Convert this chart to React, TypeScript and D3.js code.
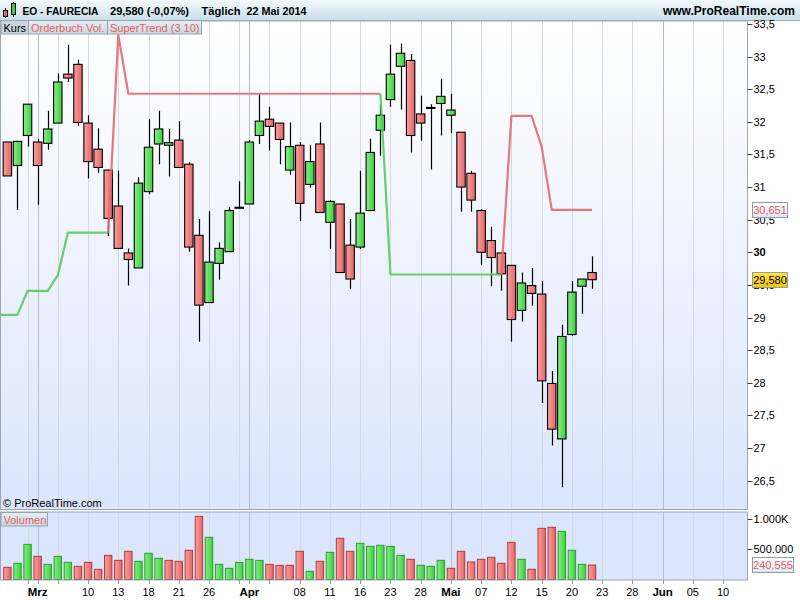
import React, { useEffect, useRef } from 'react';
import * as d3 from 'd3';

// trading days shown (Euronext Paris, daily)
const dates = [
  '2014-02-26', '2014-02-27', '2014-02-28',
  '2014-03-03', '2014-03-04', '2014-03-05', '2014-03-06', '2014-03-07',
  '2014-03-10', '2014-03-11', '2014-03-12', '2014-03-13', '2014-03-14',
  '2014-03-17', '2014-03-18', '2014-03-19', '2014-03-20', '2014-03-21',
  '2014-03-24', '2014-03-25', '2014-03-26', '2014-03-27', '2014-03-28',
  '2014-03-31', '2014-04-01', '2014-04-02', '2014-04-03', '2014-04-04',
  '2014-04-07', '2014-04-08', '2014-04-09', '2014-04-10', '2014-04-11',
  '2014-04-14', '2014-04-15', '2014-04-16', '2014-04-17',
  '2014-04-22', '2014-04-23', '2014-04-24', '2014-04-25',
  '2014-04-28', '2014-04-29', '2014-04-30', '2014-05-02',
  '2014-05-05', '2014-05-06', '2014-05-07', '2014-05-08', '2014-05-09',
  '2014-05-12', '2014-05-13', '2014-05-14', '2014-05-15', '2014-05-16',
  '2014-05-19', '2014-05-20', '2014-05-21', '2014-05-22',
];

const opens = [
  31.69, 31.33, 31.79, 31.69, 31.67, 31.98, 32.73, 32.88, 31.98, 31.58,
  31.26, 30.71, 29.99, 29.76, 30.93, 31.66, 31.64, 31.72, 31.35, 30.26,
  29.23, 29.83, 30.01, 30.68, 30.74, 31.79, 32.04, 31.98, 31.26, 31.64,
  31.04, 31.66, 30.46, 30.74, 30.11, 30.08, 30.64, 31.87, 32.34, 32.85,
  32.94, 32.12, 32.22, 32.28, 32.10, 31.84, 31.21, 30.64, 30.18, 29.99,
  29.80, 29.11, 29.49, 29.36, 27.99, 27.14, 28.74, 29.48, 29.69,
];
const highs = [
  31.69, 31.71, 32.27, 31.74, 32.17, 32.74, 33.18, 32.95, 32.10, 31.90,
  31.26, 31.25, 30.06, 31.15, 32.04, 32.17, 31.89, 32.01, 31.38, 30.51,
  30.63, 30.15, 30.69, 31.09, 31.72, 32.44, 32.23, 31.98, 31.99, 31.69,
  31.64, 31.99, 30.80, 30.74, 30.51, 31.25, 31.74, 32.26, 33.18, 33.20,
  33.04, 32.40, 32.27, 32.66, 32.43, 31.84, 31.25, 30.66, 30.39, 29.99,
  29.80, 29.69, 29.76, 29.56, 28.18, 28.89, 29.56, 29.59, 29.94,
];
const lows = [
  31.17, 30.65, 31.62, 30.73, 31.57, 31.98, 32.61, 31.94, 31.13, 31.22,
  30.25, 30.06, 29.49, 29.76, 30.89, 31.35, 31.16, 31.30, 30.01, 28.63,
  29.23, 29.58, 30.01, 30.68, 30.74, 31.66, 31.56, 31.35, 31.19, 30.48,
  30.99, 30.61, 30.05, 29.69, 29.44, 30.05, 30.64, 31.48, 32.23, 32.19,
  31.53, 31.71, 31.27, 31.79, 31.83, 30.62, 30.62, 29.81, 29.48, 29.41,
  28.63, 28.94, 29.18, 27.69, 27.04, 26.40, 28.72, 29.06, 29.44,
];
const closes = [
  31.17, 31.70, 32.27, 31.33, 31.89, 32.61, 32.67, 31.99, 31.39, 31.30,
  30.52, 30.06, 29.89, 31.06, 31.61, 31.89, 31.68, 31.30, 30.08, 29.19,
  29.85, 30.06, 30.64, 30.69, 31.69, 32.01, 31.93, 31.73, 31.62, 30.75,
  31.39, 30.61, 30.78, 29.69, 29.59, 30.60, 31.53, 32.10, 32.73, 33.05,
  31.79, 31.98, 32.22, 32.39, 32.18, 31.00, 30.80, 30.00, 29.92, 29.67,
  28.97, 29.53, 29.37, 28.03, 27.29, 28.71, 29.39, 29.59, 29.58,
];
const volumes = [
  202000, 269000, 584000, 385000, 252000, 385000, 285000, 219000, 285000, 169000,
  401000, 318000, 468000, 302000, 435000, 352000, 318000, 302000, 485000, 1049000,
  700000, 252000, 186000, 285000, 335000, 318000, 252000, 235000, 235000, 468000,
  136000, 302000, 451000, 684000, 468000, 601000, 551000, 568000, 551000, 401000,
  335000, 235000, 219000, 318000, 186000, 468000, 291000, 335000, 368000, 269000,
  617000, 335000, 169000, 850000, 867000, 800000, 485000, 252000, 240555,
];

// SuperTrend (3 10) value and direction per day
const superTrend = [
  29.04, 29.04, 29.41, 29.41, 29.41, 29.65, 30.30, 30.30, 30.30, 30.30,
  30.30, 33.33, 32.43, 32.43, 32.43, 32.43, 32.43, 32.43, 32.43, 32.43,
  32.43, 32.43, 32.43, 32.43, 32.43, 32.43, 32.43, 32.43, 32.43, 32.43,
  32.43, 32.43, 32.43, 32.43, 32.43, 32.43, 32.43, 32.43, 29.66, 29.66,
  29.66, 29.66, 29.66, 29.66, 29.66, 29.66, 29.66, 29.66, 29.66, 29.66,
  32.09, 32.09, 32.09, 31.62, 30.651, 30.651, 30.651, 30.651, 30.651,
];
const superTrendUp = [
  1, 1, 1, 1, 1, 1, 1, 1, 1, 1,
  1, 0, 0, 0, 0, 0, 0, 0, 0, 0,
  0, 0, 0, 0, 0, 0, 0, 0, 0, 0,
  0, 0, 0, 0, 0, 0, 0, 0, 1, 1,
  1, 1, 1, 1, 1, 1, 1, 1, 1, 1,
  0, 0, 0, 0, 0, 0, 0, 0, 0,
];

const priceTicks = [26.5, 27, 27.5, 28, 28.5, 29, 29.5, 30, 30.5, 31, 31.5, 32, 32.5, 33, 33.5];
const volumeTicks = [500000, 1000000];
const volumeTickLabels = ['500.000', '1.000K'];

// x positions are trading-day indexes (future days continue past the last candle)
const gridIdx = [2, 5, 8, 11, 14, 17, 20, 23, 26, 29, 32, 35, 38, 41, 44, 47, 50, 53, 56, 59, 62, 65, 68, 71];
const monthIdx = [3, 24, 44, 65];
const monthLabels = ['Mrz', 'Apr', 'Mai', 'Jun'];
const dayIdx = [8, 11, 14, 17, 20, 29, 32, 35, 38, 41, 47, 50, 53, 56, 59, 62, 68, 71];
const dayLabels = ['10', '13', '18', '21', '26', '08', '11', '16', '23', '28', '07', '12', '15', '20', '23', '28', '05', '10'];

const FONT = '"Liberation Sans", Arial, sans-serif';

const App: React.FC = () => {
  const svgRef = useRef<SVGSVGElement>(null);

  useEffect(() => {
    if (!svgRef.current) return;
    const svg = d3.select(svgRef.current);
    svg.selectAll('*').remove();

    const width = 800;
    const height = 600;
    const plotRight = 747.5;
    const priceTop = 21;
    const priceBottom = 509.5;
    const volTop = 512;
    const volBottom = 580;

    const x = d3.scaleLinear().domain([0, 73.37]).range([7.4, 747]);
    const y = d3.scaleLinear().domain([26.5, 33.5]).range([480.7, 23.9]);
    const yv = d3.scaleLinear().domain([0, 1000000]).range([579.5, 519.3]);
    const half = 4.2;
    const fmtPrice = (v: number) => (Number.isInteger(v) ? String(v) : String(v).replace('.', ','));

    svg.attr('width', width).attr('height', height).attr('viewBox', `0 0 ${width} ${height}`);

    const defs = svg.append('defs');
    const vgrad = (id: string, c0: string, c1: string) => {
      const g = defs.append('linearGradient').attr('id', id).attr('x1', 0).attr('y1', 0).attr('x2', 0).attr('y2', 1);
      g.append('stop').attr('offset', '0%').attr('stop-color', c0);
      g.append('stop').attr('offset', '100%').attr('stop-color', c1);
    };
    const hgrad = (id: string, c0: string, c1: string) => {
      const g = defs.append('linearGradient').attr('id', id).attr('x1', 0).attr('y1', 0).attr('x2', 1).attr('y2', 0);
      g.append('stop').attr('offset', '0%').attr('stop-color', c0);
      g.append('stop').attr('offset', '100%').attr('stop-color', c1);
    };
    vgrad('hdr', '#f3fafd', '#c9dfe8');
    vgrad('pricebg', '#ffffff', '#dbe5fc');
    vgrad('legbg', '#e6eef3', '#c9d7e0');
    vgrad('yellow', '#ffe640', '#f2c400');
    vgrad('lblbg', '#ffffff', '#dde6f4');
    hgrad('gup', '#86ee86', '#3fcf3f');
    hgrad('gdn', '#f9a0a0', '#e46666');
    defs.append('clipPath').attr('id', 'priceClip')
      .append('rect').attr('x', 0).attr('y', priceTop).attr('width', plotRight).attr('height', priceBottom - priceTop);

    svg.append('rect').attr('width', width).attr('height', height).attr('fill', '#ffffff');

    // header
    svg.append('rect').attr('x', 0).attr('y', 0).attr('width', width).attr('height', 20).attr('fill', 'url(#hdr)');
    svg.append('line').attr('x1', 0).attr('x2', width).attr('y1', 20.5).attr('y2', 20.5).attr('stroke', '#9fb0bc');
    const icon = svg.append('g');
    icon.append('line').attr('x1', 5.5).attr('x2', 5.5).attr('y1', 8).attr('y2', 18).attr('stroke', '#000');
    icon.append('rect').attr('x', 3.5).attr('y', 10.5).attr('width', 4).attr('height', 6).attr('fill', '#e46666').attr('stroke', '#000');
    icon.append('line').attr('x1', 13.5).attr('x2', 13.5).attr('y1', 2).attr('y2', 17).attr('stroke', '#000');
    icon.append('rect').attr('x', 11.5).attr('y', 3.5).attr('width', 4).attr('height', 11).attr('fill', '#3fcf3f').attr('stroke', '#000');
    const hdrText = (tx: number, s: string, len: number | null, size = 11.5) => {
      const t = svg.append('text').attr('x', tx).attr('y', 15).attr('font-family', FONT).attr('font-weight', 'bold')
        .attr('font-size', size).attr('fill', '#000').text(s);
      if (len) t.attr('textLength', len).attr('lengthAdjust', 'spacingAndGlyphs');
      return t;
    };
    hdrText(22.5, 'EO - FAURECIA', 76);
    hdrText(110, '29,580 (-0,07%)', 79);
    hdrText(201.5, 'Täglich', 39);
    hdrText(246.5, '22 Mai 2014', 60);
    hdrText(795, 'www.ProRealTime.com', null, 12).attr('text-anchor', 'end');

    // price panel
    svg.append('rect').attr('x', 0).attr('y', priceTop).attr('width', plotRight).attr('height', priceBottom - priceTop)
      .attr('fill', 'url(#pricebg)');
    svg.append('rect').attr('x', 0).attr('y', volTop).attr('width', plotRight).attr('height', volBottom - volTop)
      .attr('fill', '#dbe5fc');

    // vertical grid
    const grid = svg.append('g');
    [[priceTop, priceBottom], [volTop, volBottom]].forEach(([t, b]) => {
      grid.selectAll(null).data(gridIdx).enter().append('line')
        .attr('x1', d => Math.round(x(d)) + 0.5).attr('x2', d => Math.round(x(d)) + 0.5)
        .attr('y1', t).attr('y2', b).attr('stroke', '#d3dae6').attr('stroke-width', 1);
      grid.selectAll(null).data(monthIdx).enter().append('line')
        .attr('x1', d => Math.round(x(d)) + 0.5).attr('x2', d => Math.round(x(d)) + 0.5)
        .attr('y1', t).attr('y2', b).attr('stroke', '#b4bdcc').attr('stroke-width', 1);
    });

    // candles
    const idx = d3.range(dates.length);
    const cg = svg.append('g').attr('clip-path', 'url(#priceClip)');
    cg.selectAll('line.wick').data(idx).enter().append('line').attr('class', 'wick')
      .attr('x1', i => Math.round(x(i)) + 0.5).attr('x2', i => Math.round(x(i)) + 0.5)
      .attr('y1', i => y(highs[i])).attr('y2', i => y(lows[i]))
      .attr('stroke', '#000').attr('stroke-width', 1.2);
    cg.selectAll('rect.body').data(idx).enter().append('rect').attr('class', 'body')
      .attr('x', i => x(i) - half)
      .attr('y', i => y(Math.max(opens[i], closes[i])))
      .attr('width', half * 2)
      .attr('height', i => Math.max(1, Math.abs(y(opens[i]) - y(closes[i]))))
      .attr('fill', i => (closes[i] >= opens[i] ? 'url(#gup)' : 'url(#gdn)'))
      .attr('stroke', '#000').attr('stroke-width', 1.1);

    // SuperTrend, segment coloured by the direction of its end point
    const runs: { up: number; pts: number[] }[] = [];
    for (let i = 1; i < superTrend.length; i++) {
      const last = runs[runs.length - 1];
      if (last && last.up === superTrendUp[i]) last.pts.push(i);
      else runs.push({ up: superTrendUp[i], pts: [i - 1, i] });
    }
    const stLine = d3.line<number>().x(i => x(i)).y(i => y(superTrend[i]));
    cg.selectAll('path.st').data(runs).enter().append('path').attr('class', 'st')
      .attr('d', r => stLine(r.pts))
      .attr('fill', 'none')
      .attr('stroke', r => (r.up ? '#55cc55' : '#e46a6a'))
      .attr('stroke-width', 2.2).attr('stroke-opacity', 0.9).attr('stroke-linejoin', 'round');
    // the first value continues off the left edge
    cg.append('line').attr('x1', 0).attr('x2', x(0)).attr('y1', y(superTrend[0])).attr('y2', y(superTrend[0]))
      .attr('stroke', '#55cc55').attr('stroke-width', 2.2).attr('stroke-opacity', 0.9);

    // volume bars, coloured by close vs previous close
    const vg = svg.append('g');
    vg.selectAll('rect').data(idx).enter().append('rect')
      .attr('x', i => x(i) - half + 0.5)
      .attr('y', i => yv(volumes[i]))
      .attr('width', half * 2 - 1)
      .attr('height', i => yv(0) - yv(volumes[i]))
      .attr('fill', i => (i > 0 && closes[i] >= closes[i - 1] ? 'url(#gup)' : 'url(#gdn)'))
      .attr('stroke', i => (i > 0 && closes[i] >= closes[i - 1] ? '#2c9c2c' : '#b23a3a'))
      .attr('stroke-width', 1);

    // panel borders
    svg.append('rect').attr('x', 0.5).attr('y', priceTop).attr('width', plotRight - 0.5).attr('height', priceBottom - priceTop)
      .attr('fill', 'none').attr('stroke', '#9aa7b5');
    svg.append('rect').attr('x', 0.5).attr('y', volTop).attr('width', plotRight - 0.5).attr('height', volBottom - volTop)
      .attr('fill', 'none').attr('stroke', '#9aa7b5');

    // price axis
    const pa = svg.append('g');
    pa.selectAll('line').data(priceTicks).enter().append('line')
      .attr('x1', plotRight).attr('x2', plotRight + 5)
      .attr('y1', d => Math.round(y(d)) + 0.5).attr('y2', d => Math.round(y(d)) + 0.5)
      .attr('stroke', '#444');
    pa.selectAll('text').data(priceTicks).enter().append('text')
      .attr('x', plotRight + 6).attr('y', d => y(d) + 4)
      .attr('font-family', FONT).attr('font-size', 11)
      .attr('font-weight', d => (d === 30 ? 'bold' : 'normal'))
      .attr('fill', '#000').text(d => fmtPrice(d));

    // volume axis
    const va = svg.append('g');
    va.selectAll('line').data(volumeTicks).enter().append('line')
      .attr('x1', plotRight).attr('x2', plotRight + 5)
      .attr('y1', d => Math.round(yv(d)) + 0.5).attr('y2', d => Math.round(yv(d)) + 0.5)
      .attr('stroke', '#444');
    va.selectAll('text').data(volumeTicks).enter().append('text')
      .attr('x', plotRight + 6).attr('y', d => yv(d) + 4)
      .attr('font-family', FONT).attr('font-size', 11).attr('fill', '#000')
      .text((_, k) => volumeTickLabels[k]);

    // value boxes on the right axis
    const valueBox = (cy: number, label: string, fill: string, color: string) => {
      svg.append('rect').attr('x', 752.5).attr('y', Math.round(cy) - 7.5).attr('width', 35).attr('height', 15)
        .attr('fill', fill).attr('stroke', '#8f9ba8');
      svg.append('text').attr('x', 770).attr('y', Math.round(cy) + 4).attr('text-anchor', 'middle')
        .attr('font-family', FONT).attr('font-size', 11).attr('fill', color).text(label);
    };
    const last = dates.length - 1;
    valueBox(y(superTrend[last]), fmtPrice(+superTrend[last].toFixed(3)), 'url(#lblbg)', '#e05a5a');
    valueBox(y(closes[last]), closes[last].toFixed(3).replace('.', ','), 'url(#yellow)', '#000');
    svg.append('rect').attr('x', 752.5).attr('y', Math.round(yv(volumes[last])) - 7.5).attr('width', 41).attr('height', 15)
      .attr('fill', 'url(#lblbg)').attr('stroke', '#8f9ba8');
    svg.append('text').attr('x', 773).attr('y', Math.round(yv(volumes[last])) + 4).attr('text-anchor', 'middle')
      .attr('font-family', FONT).attr('font-size', 11).attr('fill', '#e05a5a')
      .text(d3.format(',')(volumes[last]).replace(/,/g, '.'));

    // time axis
    const ta = svg.append('g');
    ta.selectAll('line').data([...gridIdx, ...monthIdx]).enter().append('line')
      .attr('x1', d => Math.round(x(d)) + 0.5).attr('x2', d => Math.round(x(d)) + 0.5)
      .attr('y1', volBottom).attr('y2', volBottom + 4).attr('stroke', '#8f9ba8');
    ta.selectAll('text.day').data(dayIdx).enter().append('text').attr('class', 'day')
      .attr('x', d => x(d)).attr('y', 596).attr('text-anchor', 'middle')
      .attr('font-family', FONT).attr('font-size', 11).attr('fill', '#000')
      .text((_, k) => dayLabels[k]);
    ta.selectAll('text.month').data(monthIdx).enter().append('text').attr('class', 'month')
      .attr('x', d => x(d)).attr('y', 596).attr('text-anchor', 'middle')
      .attr('font-family', FONT).attr('font-size', 11.5).attr('font-weight', 'bold').attr('fill', '#000')
      .text((_, k) => monthLabels[k]);

    // legend boxes
    const legends = [
      { label: 'Kurs', x0: 1, x1: 28.5, color: '#000', fill: '#c9d5dd' },
      { label: 'Orderbuch Vol.', x0: 28.5, x1: 107.5, color: '#e06262', fill: 'url(#legbg)' },
      { label: 'SuperTrend (3 10)', x0: 107.5, x1: 201.5, color: '#e06262', fill: 'url(#legbg)' },
    ];
    legends.forEach(l => {
      svg.append('rect').attr('x', l.x0).attr('y', 20.5).attr('width', l.x1 - l.x0).attr('height', 13.5)
        .attr('fill', l.fill).attr('stroke', '#95a4b0');
      svg.append('text').attr('x', l.x0 + 2.5).attr('y', 31.5)
        .attr('font-family', FONT).attr('font-size', 11).attr('fill', l.color).text(l.label);
    });
    svg.append('rect').attr('x', 1).attr('y', 512.5).attr('width', 46.5).attr('height', 13.5)
      .attr('fill', 'url(#legbg)').attr('stroke', '#95a4b0');
    svg.append('text').attr('x', 3.5).attr('y', 523.5)
      .attr('font-family', FONT).attr('font-size', 11).attr('fill', '#e06262').text('Volumen');

    svg.append('text').attr('x', 3).attr('y', 507)
      .attr('font-family', FONT).attr('font-size', 11).attr('fill', '#000').text('© ProRealTime.com');
  }, []);

  return (
    <div style={{ position: 'absolute', left: 0, top: 0, width: 800, height: 600 }}>
      <svg ref={svgRef} style={{ display: 'block' }}></svg>
    </div>
  );
};

export default App;
